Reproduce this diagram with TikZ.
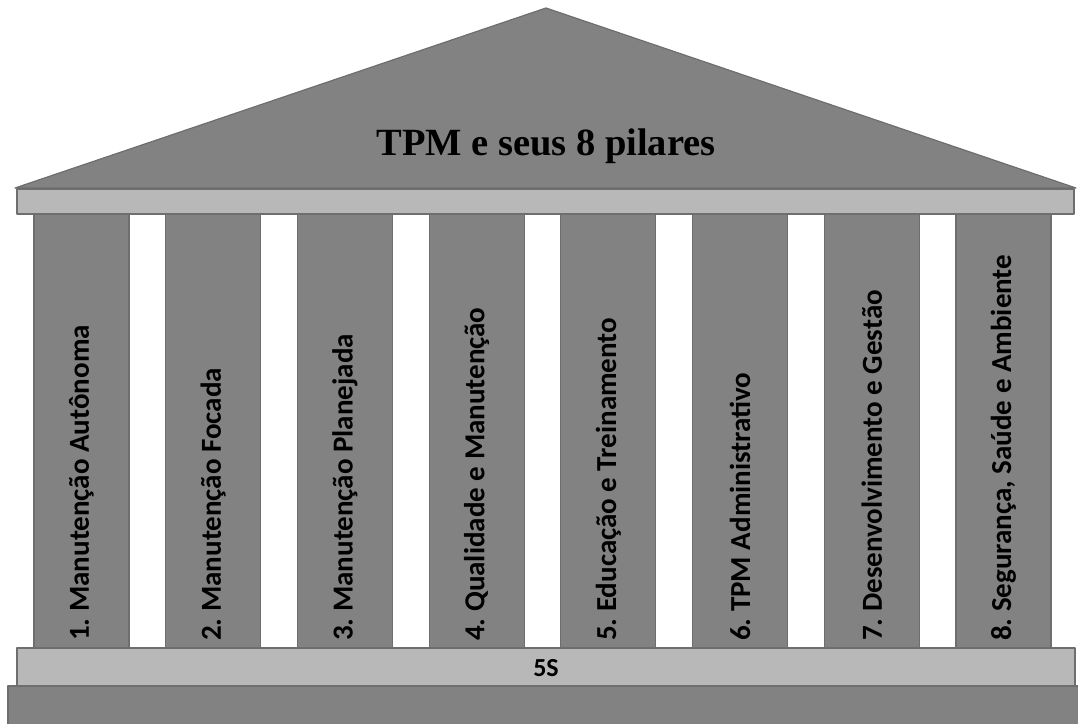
\documentclass[tikz,border=0pt]{standalone}
\usepackage{fontspec}
\setmainfont{Liberation Serif}
\newfontfamily\pilarfont{Carlito}
\definecolor{escuro}{HTML}{828282}
\definecolor{claro}{HTML}{B8B8B8}
\definecolor{borda}{HTML}{6E6E6E}
\frenchspacing
\begin{document}
\begin{tikzpicture}[x=1pt,y=-1pt,line join=round,
	bloco/.style={fill=escuro,draw=borda,line width=1.2pt},
	viga/.style={fill=claro,draw=borda,line width=1.2pt},
	rotulo/.style={rotate=90,anchor=west,inner sep=0pt,font=\pilarfont\bfseries\fontsize{29}{30}\selectfont}]
	\useasboundingbox (0,0) rectangle (1078,724);
	\draw[bloco] (15,188) -- (546,8) -- (1076,188) -- cycle;
	\node[font=\bfseries\fontsize{38.5}{40}\selectfont] (titulo) at (546,146) {TPM e seus 8 pilares};
	\draw[viga] (17,189) rectangle (1074,214);
	\foreach \t [count=\i] in {1. Manutenção Autônoma,2. Manutenção Focada,3. Manutenção Planejada,
		4. Qualidade e Manutenção,5. Educação e Treinamento,6. TPM Administrativo,
		7. Desenvolvimento e Gestão,{8. Segurança, Saúde e Ambiente}}{
		\pgfmathsetmacro\xl{34+(\i-1)*131.7}
		\draw[bloco] (\xl,214) rectangle ++(95,434);
		\node[rotulo] (p\i) at (\xl+47.5,641) {\t};
	}
	\draw[viga] (17,648) rectangle (1075,686);
	\node[font=\pilarfont\bfseries\fontsize{26}{27}\selectfont] (base) at (546,668) {5S};
	\fill[escuro] (8,686) rectangle (1078,724);
	\draw[borda,line width=1.2pt] (8,724) -- (8,686) -- (1078,686);
\end{tikzpicture}
\end{document}
